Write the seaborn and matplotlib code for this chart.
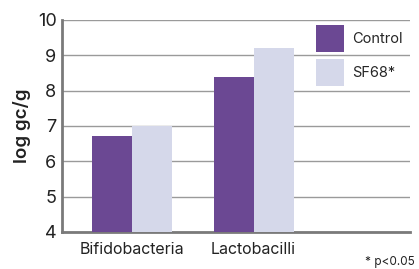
import pandas as pd
import seaborn as sns
import matplotlib.pyplot as plt

# values
categories = ['Bifidobacteria', 'Lactobacilli']
control = [6.72, 8.39]
sf68 = [7.0, 9.21]
groups = ['Control', 'SF68*']
yticks = [4, 5, 6, 7, 8, 9, 10]

df = pd.DataFrame({
    'category': categories * 2,
    'group': [groups[0]] * 2 + [groups[1]] * 2,
    'value': control + sf68,
})

sns.set_style('white')
plt.rcParams['font.family'] = ['Inter', 'DejaVu Sans']

fig, ax = plt.subplots(figsize=(4.19, 2.69), dpi=100)
fig.subplots_adjust(left=0.148, right=0.978, top=0.926, bottom=0.138)

palette = {'Control': '#6b4893', 'SF68*': '#d5d8ea'}
sns.barplot(data=df, x='category', y='value', hue='group', palette=palette,
            width=0.656, gap=0, saturation=1, linewidth=0, ax=ax, zorder=3)

ax.set_ylim(4, 10)
ax.set_xlim(-0.57, 2.28)
ax.set_yticks(yticks)
ax.yaxis.grid(True, color='#9a9a9a', linewidth=1, zorder=0)
ax.set_axisbelow(True)
ax.tick_params(axis='y', length=0, labelsize=13, pad=4, colors='#222222')
ax.tick_params(axis='x', length=0, labelsize=11.5, pad=7, colors='#222222')
ax.set_xlabel('')
ax.set_ylabel('log gc/g', fontsize=13.5, fontweight='semibold', color='#222222', labelpad=5)

for s in ['top', 'right']:
    ax.spines[s].set_visible(False)
for s in ['left', 'bottom']:
    ax.spines[s].set_color('#7a7a7a')
    ax.spines[s].set_linewidth(2)

ax.legend(loc='upper right', bbox_to_anchor=(1.0, 1.01), frameon=False,
          fontsize=10.5, handlelength=1.95, handleheight=2.5, labelspacing=0.45,
          handletextpad=0.55, borderaxespad=0.1)

fig.text(0.99, 0.004, '* p<0.05', ha='right', va='bottom', fontsize=8.5, color='#222222')

fig.savefig('out.png', dpi=100)
